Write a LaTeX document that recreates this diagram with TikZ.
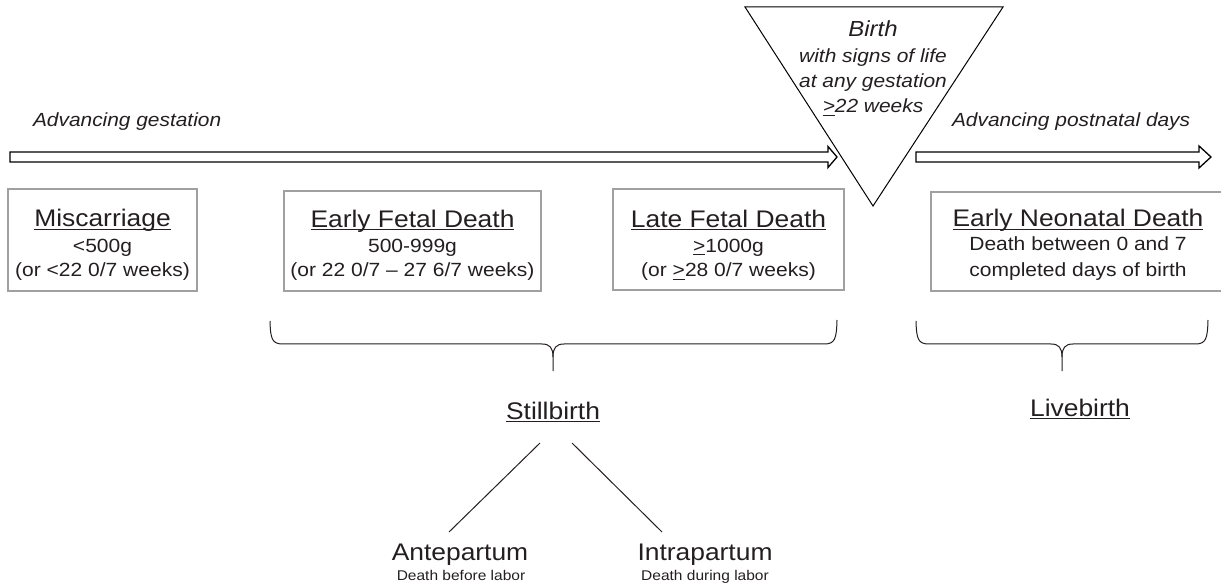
\documentclass[tikz,border=0pt]{standalone}
\usepackage{fontspec}
\setmainfont{Liberation Sans}[FakeStretch=1.1]
\newsavebox\ulbox
\newcommand\ulx[1]{\sbox\ulbox{#1}\rlap{\vrule height -1.6pt depth 3pt width \wd\ulbox}\usebox\ulbox}
\definecolor{ink}{HTML}{231F20}
\definecolor{boxgray}{HTML}{A0A0A0}
\begin{document}
\begin{tikzpicture}[x=1pt,y=-1pt,
  every node/.style={inner sep=0pt, outer sep=0pt, text=ink},
  catbox/.style={draw=boxgray, line width=1.4pt, inner sep=0pt},
  ttl/.style={anchor=base, font=\fontsize{24}{28}\selectfont},
  sub/.style={anchor=base, font=\fontsize{19.1}{23}\selectfont},
  itl/.style={anchor=base west, font=\fontsize{19}{23}\selectfont\itshape},
  birthttl/.style={anchor=base, font=\fontsize{21.8}{26}\selectfont\itshape},
  birthsub/.style={anchor=base, font=\fontsize{19}{23}\selectfont\itshape},
  kind/.style={anchor=base, font=\fontsize{24}{28}\selectfont},
  kindsub/.style={anchor=base, font=\fontsize{14.1}{17}\selectfont},
  hollow/.style={draw=black, fill=white, line width=1.3pt, line join=miter},
  bracepath/.style={draw=ink, line width=1pt},
  stem/.style={draw=ink, line width=1pt}
]
\clip (0,0) rectangle (1221,585);
\useasboundingbox (0,0) rectangle (1221,585);

% labels above arrows
\node[itl] (advg) at (33,127) {Advancing gestation};
\node[itl] (advp) at (952,127) {Advancing postnatal days};

% left hollow arrow
\coordinate (la1) at (10,152);
\coordinate (la2) at (828,152);
\coordinate (la3) at (828,146.5);
\coordinate (la4) at (837,157);
\coordinate (la5) at (828,167.5);
\coordinate (la6) at (828,162);
\coordinate (la7) at (10,162);
\path[hollow] (la1) -- (la2) -- (la3) -- (la4) -- (la5) -- (la6) -- (la7) -- cycle;

% right hollow arrow
\coordinate (ra1) at (916,152);
\coordinate (ra2) at (1199,152);
\coordinate (ra3) at (1199,146);
\coordinate (ra4) at (1211,157);
\coordinate (ra5) at (1199,168);
\coordinate (ra6) at (1199,162);
\coordinate (ra7) at (916,162);
\path[hollow] (ra1) -- (ra2) -- (ra3) -- (ra4) -- (ra5) -- (ra6) -- (ra7) -- cycle;

% birth triangle
\coordinate (tl) at (745,7);
\coordinate (tr) at (1003,7);
\coordinate (apex) at (873,206);
\draw[black, line width=1pt, line join=miter] (tl) -- (tr) -- (apex) -- cycle;
\node[birthttl] (birth) at (873,37) {Birth};
\node[birthsub] (birth2) at (873,62.5) {with signs of life};
\node[birthsub] (birth3) at (873,88) {at any gestation};
\node[birthsub] (birth4) at (873,113) {\ulx{>}22 weeks};

% category boxes
\node[catbox, minimum width=189, minimum height=102] (misc) at (102.5,240) {};
\node[ttl] (miscT) at (102.5,227) {\ulx{Miscarriage}};
\node[sub] (miscA) at (102.5,252.5) {<500g};
\node[sub] (miscB) at (102.5,277) {(or <22 0/7 weeks)};

\node[catbox, minimum width=257, minimum height=100] (efd) at (412.5,241) {};
\node[ttl] (efdT) at (412.5,227.5) {\ulx{Early Fetal Death}};
\node[sub] (efdA) at (412.5,252.5) {500-999g};
\node[sub] (efdB) at (412.5,277) {(or 22 0/7 – 27 6/7 weeks)};

\node[catbox, minimum width=231, minimum height=101] (lfd) at (728.5,239.5) {};
\node[ttl] (lfdT) at (728.5,227.5) {\ulx{Late Fetal Death}};
\node[sub] (lfdA) at (728.5,252.5) {\ulx{>}1000g};
\node[sub] (lfdB) at (728.5,277) {(or \ulx{>}28 0/7 weeks)};

\node[catbox, minimum width=299, minimum height=99] (end) at (1080.5,241.5) {};
\node[ttl] (endT) at (1078,227) {\ulx{Early Neonatal Death}};
\node[sub] (endA) at (1078,251) {Death between 0 and 7};
\node[sub] (endB) at (1078,276.5) {completed days of birth};

% stillbirth brace
\path[bracepath] (270,321) .. controls (270.5,339) and (272,344) .. (283,344)
  -- (542,344) .. controls (550,344) and (553,348) .. (553,357) -- (553,371);
\path[bracepath] (837,320) .. controls (836.5,339) and (835,344) .. (824,344)
  -- (564,344) .. controls (556,344) and (553,348) .. (553,357);
\node[ttl] (still) at (553,419) {\ulx{Stillbirth}};

% livebirth brace
\path[bracepath] (916,321) .. controls (916.5,339) and (918,344) .. (929,344)
  -- (1051,344) .. controls (1059,344) and (1062,348) .. (1062,357) -- (1062,371);
\path[bracepath] (1208,320) .. controls (1207.5,339) and (1206,344) .. (1195,344)
  -- (1073,344) .. controls (1065,344) and (1062,348) .. (1062,357);
\node[ttl] (live) at (1080,416) {\ulx{Livebirth}};

% stillbirth subtypes
\node[kind] (ante) at (460,560) {Antepartum};
\node[kindsub] (anteD) at (461,580.5) {Death before labor};
\node[kind] (intra) at (705,560) {Intrapartum};
\node[kindsub] (intraD) at (705,580.5) {Death during labor};

\coordinate (sbL) at (540,443);
\coordinate (apT) at (449,532);
\coordinate (sbR) at (572,443);
\coordinate (ipT) at (662,532);
\draw[stem] (sbL) -- (apT);
\draw[stem] (sbR) -- (ipT);
\end{tikzpicture}
\end{document}
